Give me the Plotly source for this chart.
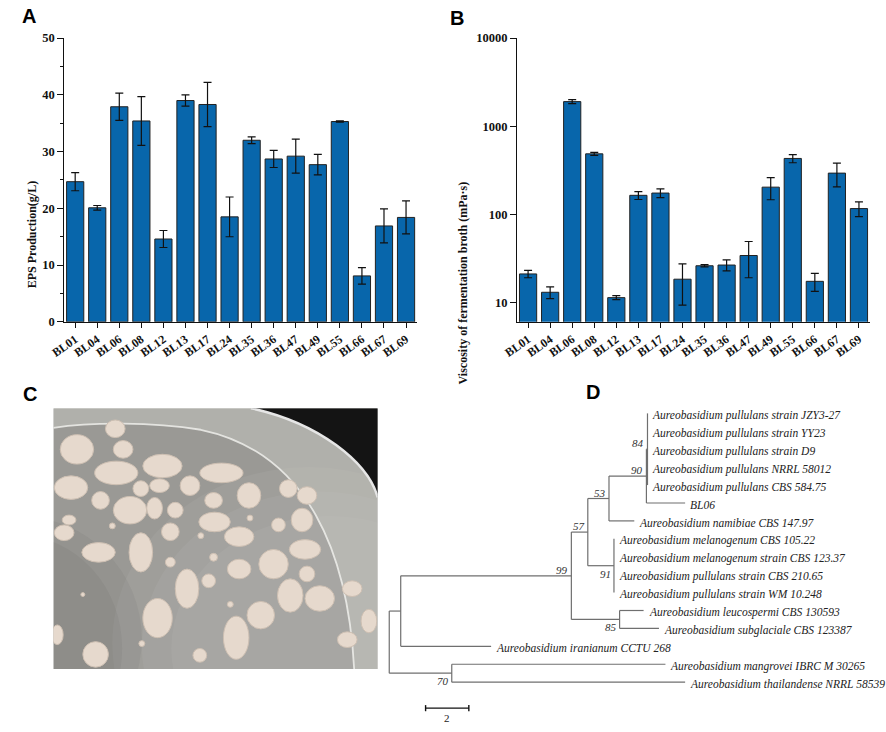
import plotly.graph_objects as go

W, H = 886, 732

# ---------------- data ----------------
strains = ["BL01", "BL04", "BL06", "BL08", "BL12", "BL13", "BL17", "BL24",
           "BL35", "BL36", "BL47", "BL49", "BL55", "BL66", "BL67", "BL69"]
eps_mean = [24.7, 20.1, 37.9, 35.4, 14.6, 39.0, 38.3, 18.5,
            32.0, 28.7, 29.2, 27.7, 35.3, 8.1, 16.9, 18.4]
eps_err = [1.6, 0.4, 2.4, 4.3, 1.5, 1.0, 3.9, 3.5,
           0.6, 1.5, 3.0, 1.8, 0.1, 1.45, 3.0, 2.9]
visc_mean = [21, 13, 1900, 485, 11.3, 164, 174, 18.3,
             26, 26.5, 34, 203, 430, 17.3, 293, 116]
visc_err = [2, 2, 100, 20, 0.6, 17, 20, 9,
            0.8, 3.8, 15, 57, 46, 4, 88, 22]
visc_ticks = [10, 100, 1000, 10000]

# phylogenetic tree: parent index, branch length, name, bootstrap
tree_parent = [-1, 0, 1, 2, 3, 4, 5, 6, 6, 6, 6, 6, 5, 4, 3, 14, 14, 14, 14,
               2, 19, 19, 1, 0, 23, 23]
tree_length = [0, 0.53, 7.89, 0.76, 0.98, 1.73, 0.05, 0, 0, 0, 0, 0, 1.79,
               1.17, 1.21, 0, 0, 0, 0, 2.23, 1.11, 1.82, 4.18, 2.89, 9.88, 10.79]
tree_name = ["", "", "", "", "", "", "",
             "Aureobasidium pullulans strain JZY3-27",
             "Aureobasidium pullulans strain YY23",
             "Aureobasidium pullulans strain D9",
             "Aureobasidium pullulans NRRL 58012",
             "Aureobasidium pullulans CBS 584.75",
             "BL06",
             "Aureobasidium namibiae CBS 147.97",
             "",
             "Aureobasidium melanogenum CBS 105.22",
             "Aureobasidium melanogenum strain CBS 123.37",
             "Aureobasidium pullulans strain CBS 210.65",
             "Aureobasidium pullulans strain WM 10.248",
             "",
             "Aureobasidium leucospermi CBS 130593",
             "Aureobasidium subglaciale CBS 123387",
             "Aureobasidium iranianum CCTU 268",
             "",
             "Aureobasidium mangrovei IBRC M 30265",
             "Aureobasidium thailandense NRRL 58539"]
tree_boot = [None, None, 99, 57, 53, 90, 84, None, None, None, None, None, None,
             None, 91, None, None, None, None, 85, None, None, None, 70, None, None]
scale_bar_len = 2

# photo (panel C) illustration: colonies (cx, cy, rx, ry) in photo pixels
colonies = [(24, 42, 17, 15), (63, 21, 10, 9), (71, 42, 10, 9), (64, 66, 22, 12),
            (111, 59, 20, 12), (18, 81, 17, 12), (171, 66, 22, 10), (139, 79, 10, 10),
            (199, 89, 12, 13), (239, 82, 9, 9), (258, 89, 10, 9), (78, 104, 17, 14),
            (48, 94, 9, 9), (89, 82, 8, 8), (108, 79, 10, 7), (103, 102, 8, 11),
            (124, 104, 8, 8), (163, 94, 9, 8), (164, 116, 16, 10), (253, 114, 11, 12),
            (229, 119, 7, 7), (119, 126, 9, 9), (11, 127, 10, 8), (16, 114, 7, 5),
            (189, 131, 15, 10), (256, 144, 16, 10), (46, 147, 17, 10), (89, 147, 12, 20),
            (224, 159, 15, 15), (189, 164, 12, 10), (136, 184, 12, 20), (158, 176, 7, 7),
            (163, 152, 4, 4), (119, 157, 5, 5), (106, 214, 15, 20), (211, 211, 14, 14),
            (241, 191, 13, 17), (271, 194, 15, 13), (186, 234, 13, 22), (43, 251, 13, 13),
            (149, 252, 7, 7), (299, 236, 10, 8), (304, 184, 10, 8), (4, 231, 6, 10),
            (321, 217, 8, 12), (258, 169, 8, 8), (150, 130, 3, 3), (60, 120, 3, 3),
            (200, 112, 3, 3), (180, 200, 3, 3), (90, 240, 3, 3), (30, 190, 2, 2)]

# ---------------- styles ----------------
SERIF = "Liberation Serif"
SANS = "Liberation Sans"
BAR_COLOR = "#0866ab"

def px_x(p):
    return p / W

def px_y(p):
    return 1 - p / H

fig = go.Figure()

err_style = dict(type="data", color="#111", thickness=1.2, width=4)

fig.add_trace(go.Bar(x=strains, y=eps_mean,
                     error_y=dict(array=eps_err, **err_style),
                     marker=dict(color=BAR_COLOR, line=dict(color="#222", width=1)),
                     xaxis="x", yaxis="y", showlegend=False))
fig.add_trace(go.Bar(x=strains, y=visc_mean,
                     error_y=dict(array=visc_err, **err_style),
                     marker=dict(color=BAR_COLOR, line=dict(color="#222", width=1)),
                     xaxis="x2", yaxis="y2", showlegend=False))

# ---------------- tree layout ----------------
n = len(tree_parent)
tx = [0.0] * n
for i in range(n):
    if tree_parent[i] >= 0:
        tx[i] = tx[tree_parent[i]] + tree_length[i]
children = [[] for _ in range(n)]
for i in range(n):
    if tree_parent[i] >= 0:
        children[tree_parent[i]].append(i)
ty = [0.0] * n
leaf_k = 0
for i in range(n):
    if not children[i]:
        ty[i] = leaf_k
        leaf_k += 1
for i in reversed(range(n)):
    if children[i]:
        ys = [ty[c] for c in children[i]]
        ty[i] = (min(ys) + max(ys)) / 2

lx, ly = [], []
for i in range(n):
    p = tree_parent[i]
    if p >= 0 and tree_length[i] > 0:
        lx += [tx[p], tx[i], None]
        ly += [ty[i], ty[i], None]
    if children[i]:
        ys = [ty[c] for c in children[i]]
        lx += [tx[i], tx[i], None]
        ly += [min(ys), max(ys), None]
fig.add_trace(go.Scatter(x=lx, y=ly, mode="lines", line=dict(color="#6f6f6f", width=1.2),
                         xaxis="x3", yaxis="y3", showlegend=False, hoverinfo="skip"))

# scale bar
sb_x0, sb_y = 1.68, leaf_k + 0.45
fig.add_trace(go.Scatter(x=[sb_x0, sb_x0 + scale_bar_len, None, sb_x0, sb_x0, None,
                            sb_x0 + scale_bar_len, sb_x0 + scale_bar_len],
                         y=[sb_y, sb_y, None, sb_y - 0.17, sb_y + 0.17, None,
                            sb_y - 0.17, sb_y + 0.17],
                         mode="lines", line=dict(color="#111", width=1.4),
                         xaxis="x3", yaxis="y3", showlegend=False, hoverinfo="skip"))

# invisible anchor trace for photo axes
fig.add_trace(go.Scatter(x=[0], y=[0], mode="markers", marker=dict(opacity=0),
                         xaxis="x4", yaxis="y4", showlegend=False, hoverinfo="skip"))

annotations = []
for i in range(n):
    if tree_name[i]:
        annotations.append(dict(x=tx[i], y=ty[i], xref="x3", yref="y3", text=tree_name[i],
                                showarrow=False, xanchor="left", yanchor="middle",
                                xshift=3, yshift=-2,
                                font=dict(family=SERIF, size=11.5, color="#222", style="italic")))
    if tree_boot[i] is not None:
        first = children[tree_parent[i]][0] == i
        annotations.append(dict(x=tx[i], y=ty[i], xref="x3", yref="y3", text=str(tree_boot[i]),
                                showarrow=False, xanchor="right", yanchor="middle",
                                xshift=-1, yshift=6 if first else -8,
                                font=dict(family=SERIF, size=11, color="#333", style="italic")))
annotations.append(dict(x=sb_x0 + scale_bar_len / 2, y=sb_y, xref="x3", yref="y3",
                        text=str(scale_bar_len), showarrow=False, yshift=-10,
                        font=dict(family=SERIF, size=11, color="#222")))

# panel letters
for letter, (cx, cy) in {"A": (14.5, 9.5), "B": (450, 11), "C": (15.5, 395), "D": (588, 393)}.items():
    annotations.append(dict(x=px_x(cx), y=px_y(cy), xref="paper", yref="paper", text=letter,
                            showarrow=False, xanchor="center", yanchor="middle",
                            font=dict(family=SANS, size=20, color="#000", weight="bold")))

# axis titles
annotations.append(dict(x=px_x(8.3), y=px_y(176), xref="paper", yref="paper",
                        text="EPS Production(g/L)", textangle=-90, showarrow=False,
                        font=dict(family=SERIF, size=12, color="#111", weight="bold")))
annotations.append(dict(x=px_x(456), y=px_y(176), xref="paper", yref="paper",
                        text="Viscosity of fermentation broth (mPa·s)", textangle=-90,
                        showarrow=False,
                        font=dict(family=SERIF, size=12, color="#111", weight="bold")))

# ---------------- photo shapes ----------------
shapes = []
pr = dict(xref="x4", yref="y4")
shapes.append(dict(type="rect", x0=0, y0=0, x1=330, y1=266, fillcolor="#9a9995",
                   line=dict(width=0), layer="below", **pr))
for k, op in enumerate([0.05, 0.05, 0.05]):
    shapes.append(dict(type="circle", x0=60 + 30 * k, y0=60 + 25 * k, x1=460 - 10 * k, y1=420 - 20 * k,
                       fillcolor="rgba(255,255,255,%s)" % op, line=dict(width=0),
                       layer="below", **pr))
for k, op in enumerate([0.05, 0.05]):
    shapes.append(dict(type="circle", x0=-160 + 20 * k, y0=110 + 20 * k, x1=90 - 20 * k, y1=360,
                       fillcolor="rgba(40,40,40,%s)" % op, line=dict(width=0),
                       layer="below", **pr))
# dish wall band
shapes.append(dict(type="path",
                   path="M 0,0 L 201,0 C 270,15 320,55 330,91 L 330,266 L 306,266 "
                        "C 300,150 260,45 150,22 C 100,14 40,14 0,20 Z",
                   fillcolor="rgba(205,203,198,0.45)", line=dict(width=0), **pr))
shapes.append(dict(type="path", path="M 201,0 C 270,15 320,55 330,91 L 330,0 Z",
                   fillcolor="#141414", line=dict(width=0), **pr))
shapes.append(dict(type="path", path="M 201,0 C 270,15 320,55 330,91",
                   line=dict(color="#e6e6e6", width=2.5), **pr))
shapes.append(dict(type="path", path="M 306,266 C 300,150 260,45 150,22 C 100,14 40,14 0,20",
                   line=dict(color="rgba(238,238,235,0.85)", width=1.8), **pr))
for (cx, cy, rx, ry) in colonies:
    shapes.append(dict(type="circle", x0=cx - rx, x1=cx + rx, y0=cy - ry, y1=cy + ry,
                       fillcolor="#e6d9cd", line=dict(color="#cdbfb2", width=1), **pr))

# ---------------- axes ----------------
bar_x_common = dict(type="category", showline=True, linecolor="#111", linewidth=1,
                    ticks="outside", ticklen=5, tickwidth=1, tickcolor="#111",
                    tickangle=-35, showgrid=False, zeroline=False,
                    tickfont=dict(family=SERIF, size=12, color="#111", weight="bold"),
                    range=[-0.5, 15.5])
bar_y_common = dict(showline=True, linecolor="#111", linewidth=1, ticks="outside",
                    ticklen=6, tickwidth=1, tickcolor="#111", showgrid=False, zeroline=False,
                    tickfont=dict(family=SERIF, size=12.5, color="#111", weight="bold"))

dom_ya = [px_y(321), px_y(31.7)]
hidden = dict(visible=False, showgrid=False, zeroline=False, fixedrange=True)

fig.update_layout(
    width=W, height=H, margin=dict(l=0, r=0, t=0, b=0),
    paper_bgcolor="white", plot_bgcolor="rgba(0,0,0,0)",
    bargap=0.22, showlegend=False,
    xaxis=dict(domain=[px_x(50), px_x(409)], anchor="y", **bar_x_common),
    yaxis=dict(domain=dom_ya, anchor="x", range=[0, 50], dtick=10,
               minor=dict(ticks="outside", dtick=5, ticklen=3, tickcolor="#111"),
               **bar_y_common),
    xaxis2=dict(domain=[px_x(510.7), px_x(869.7)], anchor="y2", **bar_x_common),
    yaxis2=dict(domain=dom_ya, anchor="x2", type="log", range=[0.778, 4],
                tickvals=visc_ticks, ticktext=[str(v) for v in visc_ticks], **bar_y_common),
    xaxis3=dict(domain=[0, 1], anchor="y3", range=[-380.7 / 22, (W - 380.7) / 22], **hidden),
    yaxis3=dict(domain=[0, 1], anchor="x3",
                range=[(H - 414.3) / 18.27, -414.3 / 18.27], **hidden),
    xaxis4=dict(domain=[px_x(39), px_x(369)], anchor="y4", range=[0, 330], **hidden),
    yaxis4=dict(domain=[px_y(675), px_y(409)], anchor="x4", range=[266, 0], **hidden),
    annotations=annotations, shapes=shapes,
)

fig.write_html("out.html", config={"displayModeBar": False},
               post_script="document.body.style.margin='0';document.body.style.overflow='hidden';")
